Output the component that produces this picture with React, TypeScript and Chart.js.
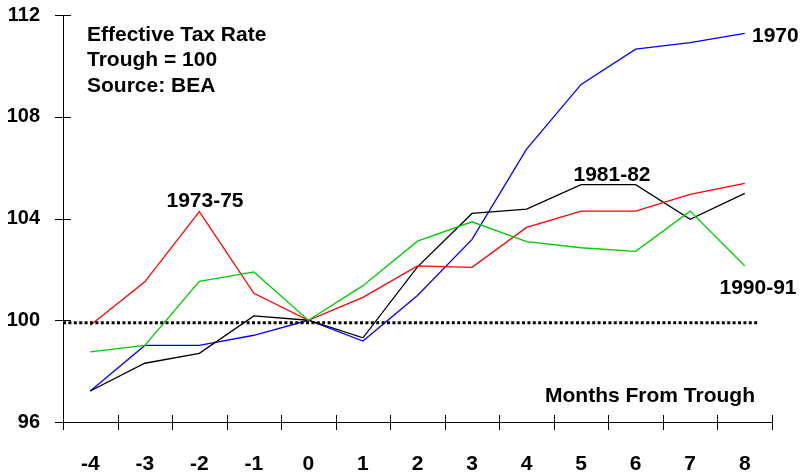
import React, { useEffect, useRef } from "react";
import { Chart, registerables } from "chart.js";

Chart.register(...registerables);

const months = ["-4", "-3", "-2", "-1", "0", "1", "2", "3", "4", "5", "6", "7", "8"];
const s1970 = [97.22, 99.01, 99.01, 99.41, 100, 99.18, 100.97, 103.18, 106.73, 109.27, 110.66, 110.91, 111.28];
const s1973 = [99.8, 101.51, 104.27, 101.06, 100, 100.9, 102.14, 102.08, 103.65, 104.29, 104.29, 104.95, 105.38];
const s1981 = [97.22, 98.31, 98.7, 100.17, 100, 99.31, 102.1, 104.2, 104.37, 105.33, 105.33, 103.97, 104.99];
const s1990 = [98.76, 99.01, 101.53, 101.9, 100, 101.36, 103.11, 103.87, 103.09, 102.85, 102.71, 104.29, 102.14];
const yTicks = [96, 100, 104, 108, 112];
const baseline = 100;

const FONT = "Liberation Sans, Arial, sans-serif";

const overlay = {
  id: "overlay",
  afterDatasetsDraw(chart: any) {
    const { ctx, chartArea, scales } = chart;
    const xs = scales.x;
    const ys = scales.y;
    ctx.save();
    // dotted baseline
    const yb = ys.getPixelForValue(baseline);
    const step = xs.getPixelForValue(1) - xs.getPixelForValue(0);
    ctx.strokeStyle = "#000";
    ctx.lineWidth = 3;
    ctx.setLineDash([3, 2.4]);
    ctx.beginPath();
    ctx.moveTo(chartArea.left, yb + 2.5);
    ctx.lineTo(xs.getPixelForValue(12) + step * 0.25, yb + 2.5);
    ctx.stroke();
    ctx.setLineDash([]);
    // crossing ticks
    ctx.lineWidth = 1;
    ctx.strokeStyle = "#000";
    ctx.beginPath();
    for (let i = 0; i <= months.length; i++) {
      const x = Math.round(xs.getPixelForValue(i - 0.5)) + 0.5;
      ctx.moveTo(x, chartArea.bottom - 7);
      ctx.lineTo(x, chartArea.bottom + 8);
    }
    for (const v of yTicks) {
      const y = Math.round(ys.getPixelForValue(v)) + 0.5;
      ctx.moveTo(chartArea.left - 8, y);
      ctx.lineTo(chartArea.left + 8, y);
    }
    ctx.stroke();
    // texts
    ctx.fillStyle = "#000";
    ctx.font = "bold 21px " + FONT;
    ctx.textBaseline = "middle";
    ctx.textAlign = "left";
    ctx.fillText("Effective Tax Rate", 87, 35);
    ctx.fillText("Trough = 100", 87, 60);
    ctx.fillText("Source: BEA", 87, 86);
    ctx.fillText("1970", 752, 36);
    ctx.textAlign = "center";
    ctx.fillText("1973-75", 205, 201);
    ctx.fillText("1981-82", 612, 175);
    ctx.fillText("1990-91", 758, 288);
    ctx.fillText("Months From Trough", 650, 396);
    ctx.restore();
  },
};

export default function App() {
  const ref = useRef<HTMLCanvasElement>(null);
  useEffect(() => {
    if (!ref.current) return;
    const line = (data: number[], color: string) => ({
      data,
      borderColor: color,
      backgroundColor: color,
      borderWidth: 1.3,
      pointRadius: 0,
      tension: 0,
      fill: false,
    });
    const chart = new Chart(ref.current, {
      type: "line",
      data: {
        labels: months,
        datasets: [
          line(s1990, "#00cc00"),
          line(s1973, "#ff0000"),
          line(s1981, "#000000"),
          line(s1970, "#0000ff"),
        ],
      },
      options: {
        animation: false,
        responsive: false,
        events: [],
        layout: { padding: { top: 15, right: 32, left: 0, bottom: 0 } },
        plugins: { legend: { display: false }, tooltip: { enabled: false } },
        scales: {
          x: {
            type: "category",
            offset: true,
            grid: { display: false, drawTicks: false, offset: true },
            border: { display: true, color: "#000", width: 1 },
            ticks: {
              color: "#000",
              font: { family: FONT, size: 21, weight: "bold" },
              padding: 30,
              maxRotation: 0,
              autoSkip: false,
            },
            afterFit: (s: any) => {
              s.height = 53;
              s.paddingLeft = 0;
              s.paddingRight = 0;
            },
          },
          y: {
            min: 96,
            max: 112,
            grid: { display: false, drawTicks: false },
            border: { display: true, color: "#000", width: 1 },
            ticks: {
              stepSize: 4,
              color: "#000",
              font: { family: FONT, size: 20, weight: "bold" },
              padding: 23,
            },
            afterFit: (s: any) => {
              s.width = 63;
              s.paddingTop = 0;
              s.paddingBottom = 0;
            },
          },
        },
      },
      plugins: [overlay],
    });
    return () => chart.destroy();
  }, []);
  return (
    <div style={{ position: "fixed", left: 0, top: 0, width: 804, height: 475, background: "#fff" }}>
      <canvas ref={ref} width={804} height={475} style={{ display: "block" }} />
    </div>
  );
}
